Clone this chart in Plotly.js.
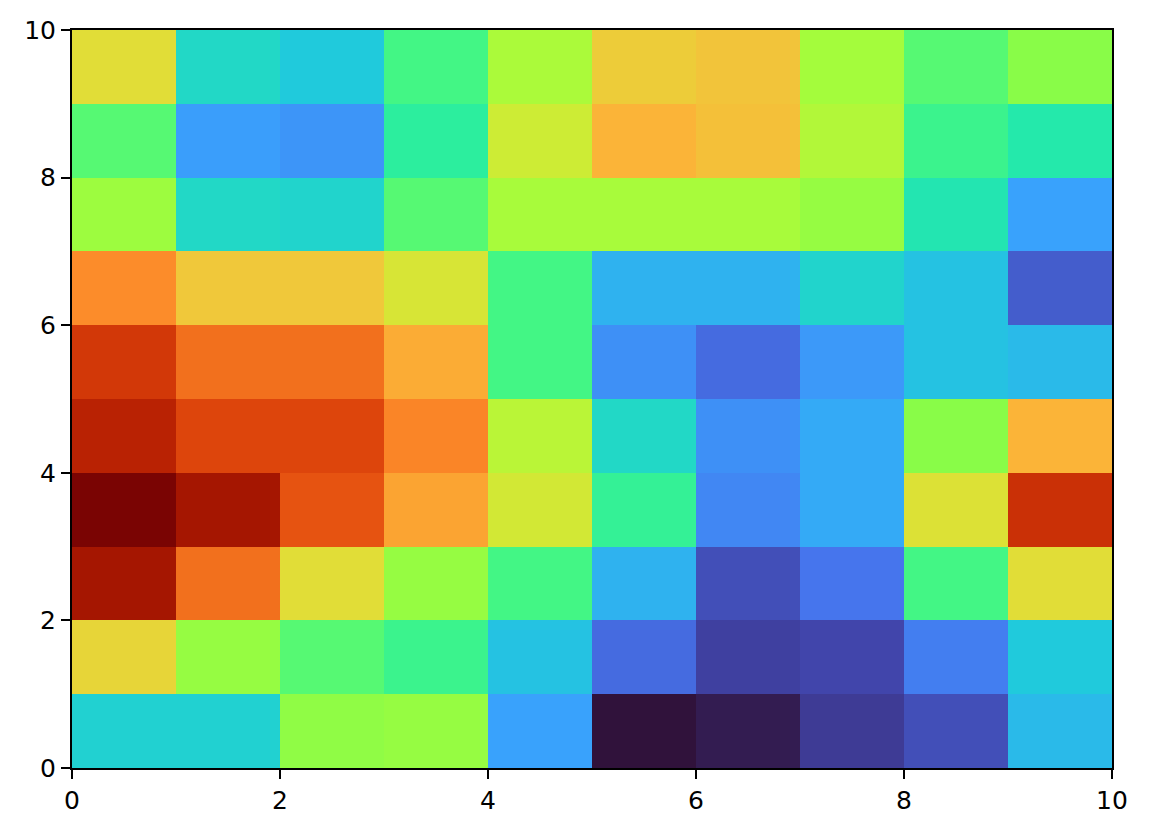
<!DOCTYPE html>
<html>
<head>
<meta charset="utf-8">
<script src="https://cdn.plot.ly/plotly-3.0.1.min.js"></script>
<style>
  html, body { margin: 0; padding: 0; background: #fff; }
  #chart { width: 1149px; height: 833px; }
</style>
</head>
<body>
<div id="chart"></div>
<script>
// cell edges along each axis
const xEdges = [0, 1, 2, 3, 4, 5, 6, 7, 8, 9, 10];
const yEdges = [0, 1, 2, 3, 4, 5, 6, 7, 8, 9, 10];

// values per row, bottom row first (0..1)
const row0 = [0.21, 0.21, 0.37, 0.38, 0.15, 0.00, 0.01, 0.04, 0.06, 0.18];
const row1 = [0.52, 0.38, 0.31, 0.28, 0.19, 0.09, 0.045, 0.05, 0.11, 0.20];
const row2 = [0.90, 0.69, 0.50, 0.38, 0.29, 0.17, 0.06, 0.10, 0.29, 0.50];
const row3 = [1.00, 0.90, 0.74, 0.62, 0.47, 0.27, 0.12, 0.16, 0.49, 0.82];
const row4 = [0.86, 0.77, 0.77, 0.66, 0.43, 0.22, 0.13, 0.16, 0.36, 0.60];
const row5 = [0.80, 0.69, 0.69, 0.61, 0.29, 0.13, 0.09, 0.14, 0.19, 0.18];
const row6 = [0.65, 0.55, 0.55, 0.48, 0.29, 0.17, 0.17, 0.215, 0.19, 0.075];
const row7 = [0.39, 0.22, 0.215, 0.31, 0.405, 0.405, 0.405, 0.38, 0.24, 0.15];
const row8 = [0.31, 0.145, 0.135, 0.26, 0.46, 0.60, 0.57, 0.42, 0.28, 0.245];
const row9 = [0.50, 0.22, 0.20, 0.29, 0.41, 0.54, 0.56, 0.40, 0.31, 0.36];

const tickVals = [0, 2, 4, 6, 8, 10];
const tickText = ["0", "2", "4", "6", "8", "10"];

// approximation of matplotlib's turbo colormap
const turboScale = [
  [0.0, "rgb(48,18,59)"],
  [0.05, "rgb(65,69,171)"],
  [0.1, "rgb(70,117,237)"],
  [0.15, "rgb(57,162,252)"],
  [0.2, "rgb(32,202,220)"],
  [0.25, "rgb(36,236,166)"],
  [0.3, "rgb(75,248,125)"],
  [0.35, "rgb(130,252,75)"],
  [0.4, "rgb(164,252,60)"],
  [0.45, "rgb(200,240,52)"],
  [0.5, "rgb(225,221,55)"],
  [0.55, "rgb(240,200,58)"],
  [0.6, "rgb(251,180,56)"],
  [0.65, "rgb(252,140,42)"],
  [0.7, "rgb(240,105,26)"],
  [0.75, "rgb(228,78,15)"],
  [0.8, "rgb(210,56,8)"],
  [0.85, "rgb(190,37,3)"],
  [0.9, "rgb(165,22,1)"],
  [1.0, "rgb(122,4,3)"]
];

const z = [row0, row1, row2, row3, row4, row5, row6, row7, row8, row9];

const data = [{
  type: "heatmap",
  x: xEdges,
  y: yEdges,
  z: z,
  zmin: 0,
  zmax: 1,
  colorscale: turboScale,
  showscale: false
}];

const axisStyle = {
  showline: true,
  linecolor: "#000",
  linewidth: 2,
  mirror: true,
  ticks: "outside",
  ticklen: 9,
  tickwidth: 2,
  tickcolor: "#000",
  showgrid: false,
  zeroline: false,
  tickvals: tickVals,
  ticktext: tickText,
  tickfont: { family: "DejaVu Sans", size: 25, color: "#000" }
};

const layout = {
  width: 1149,
  height: 833,
  margin: { l: 72, r: 37, t: 30, b: 65 },
  paper_bgcolor: "#fff",
  plot_bgcolor: "#fff",
  xaxis: Object.assign({}, axisStyle, { range: [0, 10] }),
  yaxis: Object.assign({}, axisStyle, { range: [0, 10] }),
  showlegend: false
};

Plotly.newPlot("chart", data, layout, { displayModeBar: false, staticPlot: true });
</script>
</body>
</html>
